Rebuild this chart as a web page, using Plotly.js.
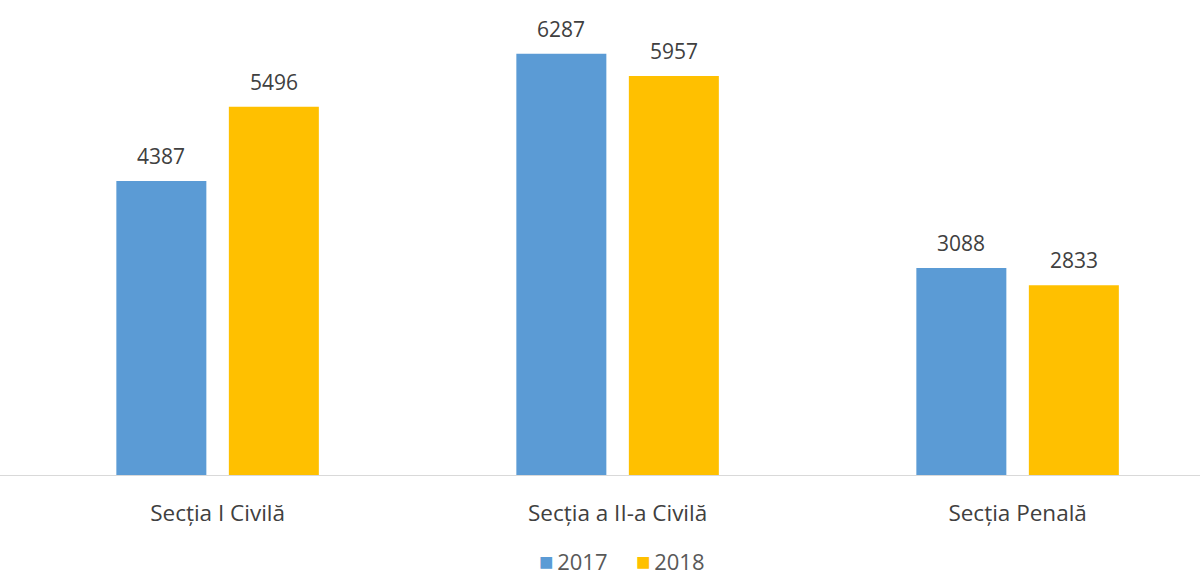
<!DOCTYPE html>
<html><head><meta charset="utf-8">
<script src="https://cdn.plot.ly/plotly-3.0.1.min.js"></script>
<style>html,body{margin:0;padding:0;background:#fff}#chart{width:1200px;height:578px}</style>
</head><body><div id="chart"></div>
<script>
const categories = ["Secția I Civilă", "Secția a II-a Civilă", "Secția Penală"];
const series2017 = [4387, 6287, 3088];
const series2018 = [5496, 5957, 2833];
const seriesNames = ["2017", "2018"];
const seriesColors = ['#5b9bd5', '#ffc000'];

const font = "Open Sans, Lato, sans-serif";
const traces = [
  {type: 'bar', name: seriesNames[0], x: categories, y: series2017, marker: {color: seriesColors[0]}, hoverinfo: 'none'},
  {type: 'bar', name: seriesNames[1], x: categories, y: series2018, marker: {color: seriesColors[1]}, hoverinfo: 'none'}
];
const annotations = [];
[series2017, series2018].forEach((vals, si) => {
  vals.forEach((v, i) => {
    annotations.push({x: categories[i], y: v, xref: 'x', yref: 'y', text: String(v), showarrow: false,
      xshift: si === 0 ? -56.25 : 56.25, yshift: 9, yanchor: 'bottom',
      font: {family: font, size: 21, color: '#404040'}});
  });
});
// custom legend (tight square + label, as in the reference)
const legendText = seriesNames.map((n, i) =>
  '<span style="color:' + seriesColors[i] + ';font-size:24px">■</span>&#8201;' + n).join('&nbsp;&nbsp;&nbsp;&nbsp;&nbsp;');
annotations.push({xref: 'paper', yref: 'paper', x: 0.518, y: -0.22, xanchor: 'center', yanchor: 'bottom',
  text: legendText, showarrow: false, borderpad: 0, font: {family: font, size: 22, color: '#595959'}});

const layout = {
  width: 1200, height: 578,
  margin: {l: 0, r: 0, t: 6, b: 103, autoexpand: false},
  paper_bgcolor: '#fff', plot_bgcolor: '#fff',
  barmode: 'group', bargap: 0.4375, bargroupgap: 0.2,
  showlegend: false,
  xaxis: {type: 'category', range: [-0.544, 2.456], showline: true, linecolor: '#d9d9d9', linewidth: 1,
    ticks: '', ticklabelstandoff: 18, tickfont: {family: font, size: 22.5, color: '#404040'}, showgrid: false, fixedrange: true},
  yaxis: {range: [0, 7000], visible: false, showgrid: false, zeroline: false, fixedrange: true},
  annotations: annotations
};
Plotly.newPlot('chart', traces, layout, {displayModeBar: false, staticPlot: true});
</script></body></html>
